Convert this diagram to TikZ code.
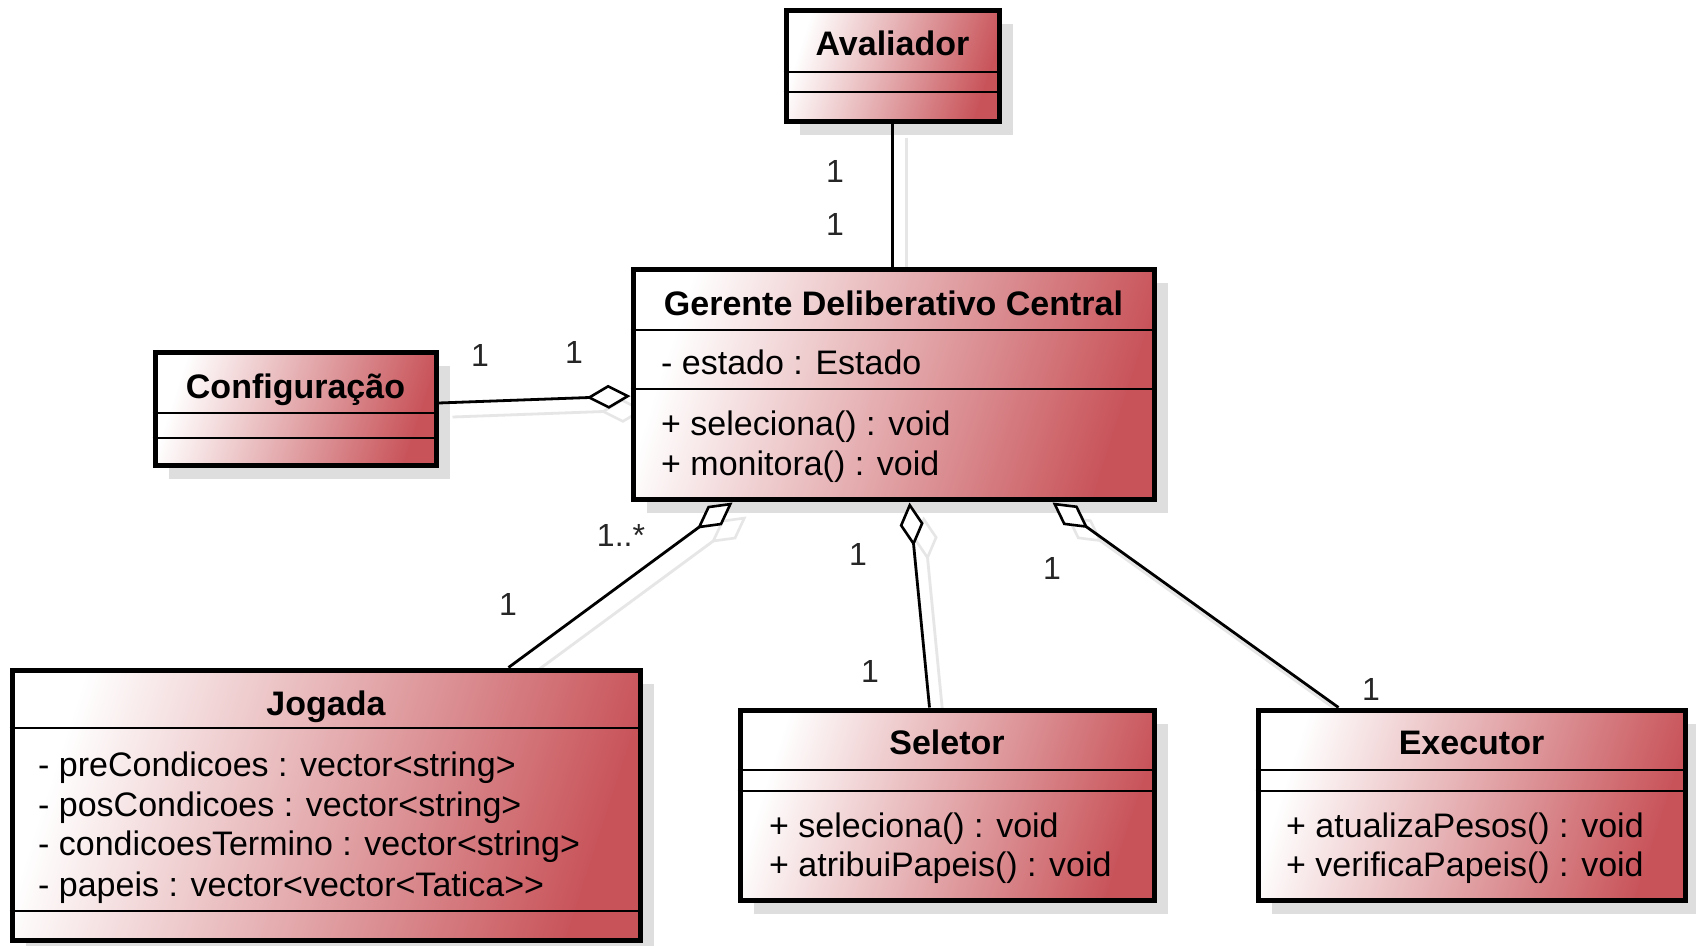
\documentclass[tikz,border=0pt]{standalone}
\usepackage{fontspec}
\setmainfont{Liberation Sans}
\usetikzlibrary{arrows.meta,shadows,backgrounds}
\definecolor{umlred}{RGB}{200,84,90}
\definecolor{shadowgray}{RGB}{222,222,222}
\definecolor{lineshadow}{RGB}{230,230,230}
\begin{document}
\begin{tikzpicture}[x=1pt,y=-1pt,
  cls/.style={draw=black, line width=5pt, shade, shading=axis, left color=white, right color=umlred, shading angle=72,
    general shadow={shadow xshift=14pt, shadow yshift=-14pt, fill=shadowgray}, inner sep=0pt},
  sepline/.style={draw=black, line width=2.5pt},
  title/.style={font=\fontsize{34}{40}\selectfont\bfseries, inner sep=0pt, text height=25pt, text depth=7pt},
  member/.style={font=\fontsize{34}{40}\selectfont, inner sep=0pt, anchor=west, text height=25pt, text depth=7pt},
  mult/.style={font=\fontsize{32}{38}\selectfont, inner sep=0pt, text=black!85},
  conn/.style={draw=black, line width=2.8pt},
  aggr/.style={conn, {Diamond[open, fill=white, length=44pt, width=24pt, line width=2.6pt]}-},
  connsh/.style={draw=lineshadow, line width=2.8pt, transform canvas={shift={(14pt,-14pt)}}},
  aggrsh/.style={connsh, {Diamond[open, fill=white, length=44pt, width=24pt, line width=2.6pt]}-}
]
\useasboundingbox (0,0) rectangle (1696,945);

% class boxes
\node[cls, minimum width=213pt, minimum height=111pt] (av) at (892.5,65.5) {};
\node[cls, minimum width=281pt, minimum height=113pt] (cfg) at (295.5,408.5) {};
\node[cls, minimum width=521pt, minimum height=230pt] (ger) at (893.5,384) {};
\node[cls, minimum width=628pt, minimum height=270pt] (jog) at (326,805) {};
\node[cls, minimum width=414pt, minimum height=190pt] (sel) at (947,805) {};
\node[cls, minimum width=427pt, minimum height=190pt] (exe) at (1471.5,805) {};

% white page and connector shadows, behind the boxes
\begin{pgfonlayer}{background}
\fill[white] (0,0) rectangle (1696,945);
\draw[connsh] (av.south) -- (av.south |- ger.north);
\draw[aggrsh] ([yshift=-12pt]ger.west) -- ([yshift=5.5pt]cfg.east);
\draw[aggrsh] ([xshift=102pt,yshift=-1pt]ger.south west) -- ([xshift=499pt]jog.north west);
\draw[aggrsh] ([xshift=279pt,yshift=-1pt]ger.south west) -- ([xshift=192pt]sel.north west);
\draw[aggrsh] ([xshift=422pt,yshift=-1pt]ger.south west) -- ([xshift=83pt]exe.north west);
\end{pgfonlayer}

% compartments
\draw[sepline] (av.west |- 0,72) -- (av.east |- 0,72);
\draw[sepline] (av.west |- 0,92) -- (av.east |- 0,92);
\draw[sepline] (cfg.west |- 0,413) -- (cfg.east |- 0,413);
\draw[sepline] (cfg.west |- 0,438) -- (cfg.east |- 0,438);
\draw[sepline] (ger.west |- 0,330) -- (ger.east |- 0,330);
\draw[sepline] (ger.west |- 0,389) -- (ger.east |- 0,389);
\draw[sepline] (jog.west |- 0,728) -- (jog.east |- 0,728);
\draw[sepline] (jog.west |- 0,911) -- (jog.east |- 0,911);
\draw[sepline] (sel.west |- 0,770) -- (sel.east |- 0,770);
\draw[sepline] (sel.west |- 0,791) -- (sel.east |- 0,791);
\draw[sepline] (exe.west |- 0,770) -- (exe.east |- 0,770);
\draw[sepline] (exe.west |- 0,791) -- (exe.east |- 0,791);

% titles
\node[title] (avT) at (892.5,46) {Avaliador};
\node[title] (cfgT) at (295.5,389) {Configuração};
\node[title] (gerT) at (893.5,306) {Gerente Deliberativo Central};
\node[title] (jogT) at (326,706) {Jogada};
\node[title] (selT) at (947,745) {Seletor};
\node[title] (exeT) at (1471.5,745) {Executor};

% members
\node[member] (g1) at (661,365) {- estado : Estado};
\node[member] (g2) at (661,426) {+ seleciona() : void};
\node[member] (g3) at (661,466) {+ monitora() : void};
\node[member] (j1) at (38,767) {- preCondicoes : vector<string>};
\node[member] (j2) at (38,807) {- posCondicoes : vector<string>};
\node[member] (j3) at (38,846) {- condicoesTermino : vector<string>};
\node[member] (j4) at (38,887) {- papeis : vector<vector<Tatica>{}>};
\node[member] (s1) at (769,828) {+ seleciona() : void};
\node[member] (s2) at (769,867) {+ atribuiPapeis() : void};
\node[member] (e1) at (1286,828) {+ atualizaPesos() : void};
\node[member] (e2) at (1286,867) {+ verificaPapeis() : void};

% connectors
\draw[conn] (av.south) -- (av.south |- ger.north);
\draw[aggr] ([yshift=-12pt]ger.west) -- ([yshift=5.5pt]cfg.east);
\draw[aggr] ([xshift=102pt,yshift=-1pt]ger.south west) -- ([xshift=499pt]jog.north west);
\draw[aggr] ([xshift=279pt,yshift=-1pt]ger.south west) -- ([xshift=192pt]sel.north west);
\draw[aggr] ([xshift=422pt,yshift=-1pt]ger.south west) -- ([xshift=83pt]exe.north west);

% multiplicities
\node[mult] (m1) at (835,171) {1};
\node[mult] (m2) at (835,224) {1};
\node[mult] (m3) at (480,355) {1};
\node[mult] (m4) at (574,352) {1};
\node[mult] (m5) at (621,535) {1..*};
\node[mult] (m6) at (508,604) {1};
\node[mult] (m7) at (858,554) {1};
\node[mult] (m8) at (870,671) {1};
\node[mult] (m9) at (1052,568) {1};
\node[mult] (m10) at (1371,689) {1};
\end{tikzpicture}
\end{document}
